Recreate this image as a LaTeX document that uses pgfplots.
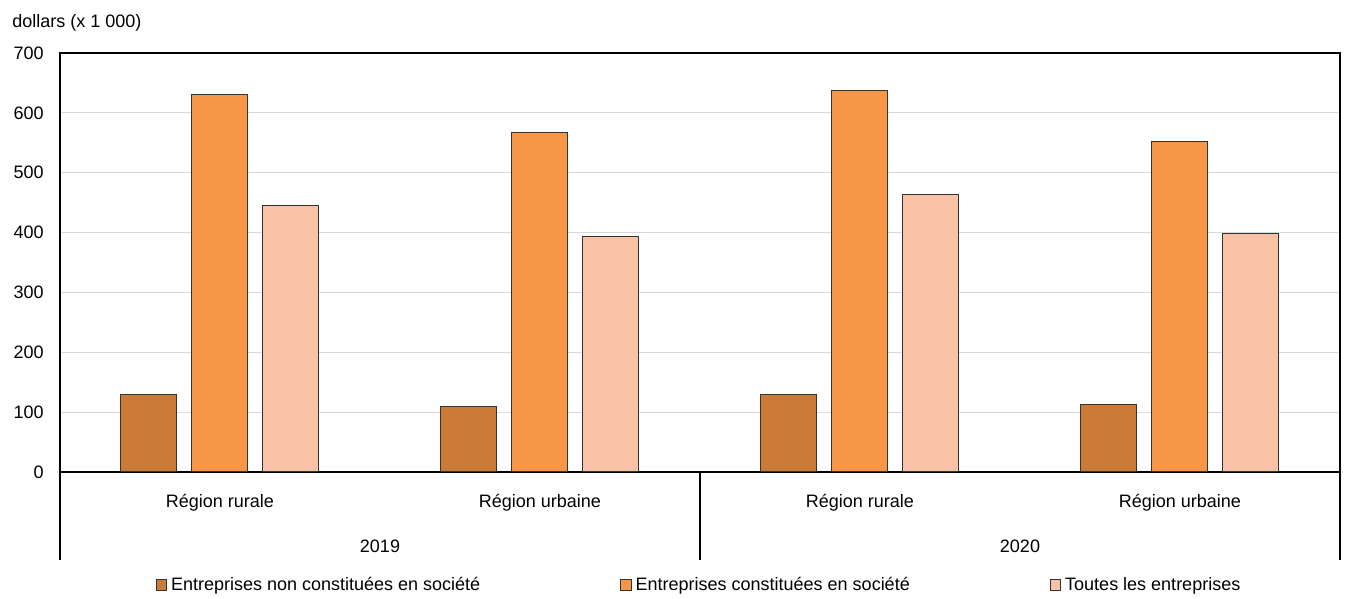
\documentclass[border=0pt]{standalone}
\usepackage{fontspec}
\setmainfont{Liberation Sans}
\usepackage{pgfplots}
\pgfplotsset{compat=1.18}

\definecolor{cNon}{HTML}{CC7A38}
\definecolor{cConst}{HTML}{F79646}
\definecolor{cAll}{HTML}{F9C2A7}
\definecolor{cGrid}{HTML}{D9D9D9}

\pgfplotsset{
    sq/.style={legend image code/.code={
        \draw[##1, draw=black!80, line width=0.5pt] (0pt,-2.6pt) rectangle (5.2pt,2.6pt);}},
}

\begin{document}
\fontsize{9}{11}\selectfont
\begin{tikzpicture}
\begin{axis}[
    name=ax,
    scale only axis,
    width=640pt, height=209.5pt,
    xmin=0, xmax=4,
    ymin=0, ymax=700,
    ytick={0,100,...,700},
    xtick={0.5,1.5,2.5,3.5},
    xticklabels={Région rurale, Région urbaine, Région rurale, Région urbaine},
    major tick length=0pt,
    xticklabel style={anchor=base, yshift=-18pt},
    yticklabel style={xshift=-5pt},
    /pgf/number format/assume math mode=true,
    ymajorgrids=true,
    grid style={cGrid, line width=0.6pt},
    axis line style={line width=0.6pt},
    ybar=7.5pt, bar width=28pt,
    clip=false,
    legend columns=3,
    legend style={at={(0.5,-0.27)}, anchor=center, draw=none, fill=none,
        /tikz/every even column/.append style={column sep=68pt},
        inner sep=0pt},
]

\addplot[fill=cNon, draw=black!80, line width=0.5pt, sq] coordinates {
    (0.5,129)(1.5,110)(2.5,130)(3.5,112)
};
\addlegendentry{Entreprises non constituées en société}

\addplot[fill=cConst, draw=black!80, line width=0.5pt, sq] coordinates {
    (0.5,630)(1.5,568)(2.5,638)(3.5,553)
};
\addlegendentry{Entreprises constituées en société}

\addplot[fill=cAll, draw=black!80, line width=0.5pt, sq] coordinates {
    (0.5,446)(1.5,394)(2.5,463)(3.5,399)
};
\addlegendentry{Toutes les entreprises}

% group separators below the axis
\draw[line width=0.6pt] (rel axis cs:0,0) -- ++(0pt,-44pt);
\draw[line width=0.6pt] (axis cs:2,0) -- ++(0pt,-44pt);
\draw[line width=0.6pt] (rel axis cs:1,0) -- ++(0pt,-44pt);
\node[anchor=base] at ([yshift=-40.5pt]axis cs:1,0) {2019};
\node[anchor=base] at ([yshift=-40.5pt]axis cs:3,0) {2020};

\node[anchor=base west, inner sep=0pt] at ([xshift=-24pt,yshift=13pt]rel axis cs:0,1) {dollars (x 1 000)};
\end{axis}
\pgfresetboundingbox
\path ([xshift=-30pt,yshift=-63.5pt]ax.south west) rectangle ([xshift=643pt,yshift=236pt]ax.south west);
\end{tikzpicture}
\end{document}
